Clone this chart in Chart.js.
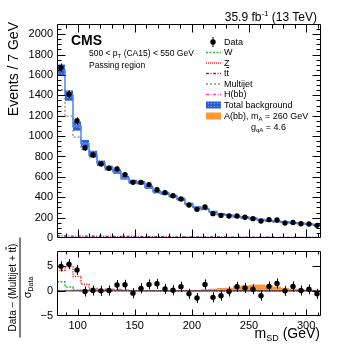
<!DOCTYPE html>
<html><head><meta charset="utf-8">
<script src="https://cdn.jsdelivr.net/npm/chart.js@4.4.1/dist/chart.umd.min.js"></script>
<style>
html,body{margin:0;padding:0;background:#fff;}
body{width:357px;height:347px;position:relative;overflow:hidden;font-family:"Liberation Sans",Arial,Helvetica,sans-serif;color:#000;}
canvas{position:absolute;left:0;}
#c1{top:0;z-index:1;}
#c2{top:240px;z-index:2;}
.t{position:absolute;white-space:nowrap;line-height:1;z-index:5;}
svg{position:absolute;left:0;top:0;z-index:4;}
</style></head><body>
<canvas id="c1" width="357" height="250"></canvas>
<canvas id="c2" width="357" height="107"></canvas>

<svg width="357" height="347">
  <defs>
    <pattern id="bluepat" width="3" height="3" patternUnits="userSpaceOnUse">
      <rect width="3" height="3" fill="#2f5fd3"/>
      <rect x="1" y="1" width="1" height="1" fill="#6f9af2"/>
    </pattern>
  </defs>
  <line x1="213" y1="37" x2="213" y2="47" stroke="#000" stroke-width="1"/>
  <circle cx="213" cy="42" r="2.7" fill="#000"/>
  <line x1="206" y1="52.5" x2="221" y2="52.5" stroke="#33aa33" stroke-width="1.5" stroke-dasharray="2,1.5"/>
  <line x1="206" y1="63" x2="221" y2="63" stroke="#e83030" stroke-width="1.5" stroke-dasharray="1,1"/>
  <line x1="206" y1="73.5" x2="221" y2="73.5" stroke="#8a1f8a" stroke-width="1.5" stroke-dasharray="3,1.5,1,1.5"/>
  <line x1="206" y1="84" x2="221" y2="84" stroke="#888" stroke-width="1.5" stroke-dasharray="2,2"/>
  <line x1="206" y1="94.5" x2="221" y2="94.5" stroke="#ff44cc" stroke-width="1.5" stroke-dasharray="3,1.5,1,1.5"/>
  <rect x="206" y="101.5" width="15" height="7" fill="url(#bluepat)"/>
  <rect x="206" y="112.5" width="15" height="7" fill="#ff9933"/>
</svg>

<div class="t" style="right:40px;top:11px;font-size:12px;">35.9 fb<span style="font-size:8px;position:relative;top:-5px">-1</span> (13 TeV)</div>
<div class="t" style="left:71px;top:33px;font-size:14px;font-weight:bold;font-family:'Liberation Sans Narrow','Liberation Sans',Arial,sans-serif;">CMS</div>
<div class="t" style="left:89px;top:49px;font-size:8.5px;">500 &lt; p<span style="font-size:6px;position:relative;top:2px">T</span> (CA15) &lt; 550 GeV</div>
<div class="t" style="left:89px;top:61px;font-size:8.5px;">Passing region</div>

<div class="t" style="left:224px;top:37.5px;font-size:9px;">Data</div>
<div class="t" style="left:224px;top:48px;font-size:9px;">W</div>
<div class="t" style="left:224px;top:58.5px;font-size:9px;">Z</div>
<div class="t" style="left:224px;top:69px;font-size:9px;">t<span style="text-decoration:overline">t</span></div>
<div class="t" style="left:224px;top:79.5px;font-size:9px;">Multijet</div>
<div class="t" style="left:224px;top:90px;font-size:9px;">H(bb)</div>
<div class="t" style="left:224px;top:100.5px;font-size:9px;">Total background</div>
<div class="t" style="left:224px;top:111.5px;font-size:9px;">A(bb), m<span style="font-size:6px;position:relative;top:2px">A</span> = 260 GeV</div>
<div class="t" style="left:251px;top:123px;font-size:9px;">g<span style="font-size:6px;position:relative;top:2px">qA</span> = 4.6</div>

<div class="t" style="left:-42px;top:69px;width:110px;height:16px;font-size:14px;line-height:16px;text-align:right;transform:rotate(-90deg);transform-origin:50% 50%;">Events / 7 GeV</div>

<div class="t" style="left:-30px;top:274px;width:100px;height:27px;transform:rotate(-90deg);transform-origin:50% 50%;text-align:center;font-size:10px;">
  <div style="border-bottom:1px solid #000;line-height:12px;height:13px;">Data − (Multijet + t<span style="text-decoration:overline">t</span>)</div>
  <div style="line-height:13px;font-size:11px;">σ<span style="font-size:7px;position:relative;top:2px">Data</span></div>
</div>

<div class="t" style="right:37px;top:326px;font-size:14px;">m<span style="font-size:9px;position:relative;top:3px">SD</span> (GeV)</div>

<script>
// ---- data ----
const massEdges = [82, 89, 96, 103, 110, 117, 124, 131, 138, 145, 152, 159, 166, 173, 180, 187, 194, 201, 208, 215, 222, 229, 236, 243, 250, 257, 264, 271, 278, 285, 292, 299, 306, 313];
const dataEvents = [1672, 1410, 1150, 884, 815, 727, 684, 678, 622, 546, 546, 524, 474, 445, 415, 383, 324, 281, 304, 239, 222, 216, 216, 203, 190, 167, 180, 177, 147, 153, 140, 137, 124];
const dataErr = [41, 38, 34, 30, 29, 27, 26, 26, 25, 23, 23, 23, 22, 21, 20, 20, 18, 17, 17, 15, 15, 15, 15, 14, 14, 13, 13, 13, 12, 12, 12, 12, 11];
const totalBkg = [1648, 1398, 1098, 926, 825, 735, 686, 651, 592, 553, 543, 499, 455, 440, 411, 381, 334, 301, 285, 258, 236, 226, 209, 203, 193, 180, 170, 163, 157, 150, 143, 137, 128];
const totalBkgUnc = [55, 50, 45, 36, 32, 26, 22, 20, 19, 18, 17, 16, 15, 15, 14, 13, 12, 11, 11, 10, 10, 9, 9, 9, 8, 8, 8, 8, 7, 7, 7, 7, 7];
const multijet = [1455, 1195, 990, 870, 795, 712, 668, 640, 580, 541, 532, 487, 444, 430, 402, 372, 326, 292, 276, 250, 228, 218, 202, 196, 186, 173, 164, 157, 151, 144, 138, 132, 123];
const ttbar = [20, 19, 18, 18, 17, 17, 16, 16, 15, 15, 14, 14, 13, 13, 12, 12, 11, 11, 10, 10, 10, 9, 9, 9, 8, 8, 8, 7, 7, 7, 7, 6, 6];
const pullData = [4.87, 5.3, 4.15, -0.13, 0.06, 0, 0.06, 1.15, 1.2, -0.46, 0.5, 1.27, 1.4, 0.38, 0.12, 0.83, -0.58, -1.42, 1.27, -1.29, -0.96, -0.13, 0.83, 0.58, 0.31, -0.96, 0.88, 1.46, 0, 0.88, 0.06, 0.31, -0.58];
const pullErr = [1, 1, 1, 1, 1, 1, 1, 1, 1, 1, 1, 1, 1, 1, 1, 1, 1, 1, 1, 1, 1, 1, 1, 1, 1, 1, 1, 1, 1, 1, 1, 1, 1];
const pullZ = [4.1, 4.8, 2.85, 1.3, 0.45, 0.2, 0.2, 0.12, 0.05, 0, 0, 0, 0, 0, 0, 0, 0, 0, 0, 0, 0, 0, 0, 0, 0, 0, 0, 0, 0, 0, 0, 0, 0];
const pullW = [1.8, 0.75, 0.1, 0.02, 0, 0, 0, 0, 0, 0, 0, 0, 0, 0, 0, 0, 0, 0, 0, 0, 0, 0, 0, 0, 0, 0, 0, 0, 0, 0, 0, 0, 0];
const pullH = [0.02, 0.05, 0.08, 0.12, 0.2, 0.28, 0.3, 0.25, 0.15, 0.08, 0.03, 0, 0, 0, 0, 0, 0, 0, 0, 0, 0, 0, 0, 0, 0, 0, 0, 0, 0, 0, 0, 0, 0];
const pullSignal = [0, 0, 0, 0, 0, 0, 0, 0, 0, 0, 0, 0, 0, 0, 0, 0, 0.05, 0.1, 0.3, 0.42, 0.55, 0.62, 0.95, 1.08, 1.2, 1.27, 1.1, 0.85, 0.6, 0.42, 0.3, 0.22, 0.18];
const yTicksTop = [0, 200, 400, 600, 800, 1000, 1200, 1400, 1600, 1800, 2000];
const yTicksBottom = [-5, 0, 5];
const xTickLabels = [100, 150, 200, 250, 300];

// ---- helpers ----
const centers = massEdges.slice(0, -1).map((e, i) => (e + massEdges[i + 1]) / 2);
function steps(vals) {
  const pts = vals.map((v, i) => ({x: massEdges[i], y: v}));
  pts.push({x: massEdges[vals.length], y: vals[vals.length - 1]});
  return pts;
}
function pts(vals) { return vals.map((v, i) => ({x: centers[i], y: v})); }

const pc = document.createElement('canvas'); pc.width = 3; pc.height = 3;
const pctx = pc.getContext('2d');
pctx.fillStyle = '#2f5fd3'; pctx.fillRect(0, 0, 3, 3);
pctx.fillStyle = '#6f9af2'; pctx.fillRect(1, 1, 1, 1);
const bluePattern = pctx.createPattern(pc, 'repeat');

const FONT = '"Liberation Sans", Arial, Helvetica, sans-serif';

const frameTicks = {
  id: 'frameTicks',
  afterDraw(chart, args, o) {
    const {ctx, chartArea: a} = chart;
    const x = chart.scales.x, y = chart.scales.y;
    const L = Math.round(a.left) + 0.5, R = Math.round(a.right) - 0.5;
    const T = Math.round(a.top) + 0.5, B = Math.round(a.bottom) - 0.5;
    ctx.save();
    ctx.strokeStyle = '#000'; ctx.lineWidth = 1;
    ctx.beginPath();
    for (let v = o.xFrom; v <= o.xTo; v += o.xStep) {
      const px = Math.round(x.getPixelForValue(v)) + 0.5;
      if (px <= L + 1 || px >= R - 1) continue;
      const len = (v % o.xMajorEvery === 0) ? o.xMaj : o.xMin;
      ctx.moveTo(px, B); ctx.lineTo(px, B - len);
      ctx.moveTo(px, T); ctx.lineTo(px, T + len);
    }
    for (let v = o.yFrom; v <= o.yTo; v += o.yStep) {
      const py = Math.round(y.getPixelForValue(v)) + 0.5;
      if (py <= T + 1 || py >= B - 1) continue;
      const len = (v % o.yMajorEvery === 0) ? o.yMaj : o.yMin;
      ctx.moveTo(L, py); ctx.lineTo(L + len, py);
      ctx.moveTo(R, py); ctx.lineTo(R - len, py);
    }
    ctx.rect(L, T, R - L, B - T);
    ctx.stroke();
    ctx.restore();
  }
};

const errorBars = {
  id: 'errorBars',
  afterDatasetsDraw(chart) {
    const {ctx} = chart;
    const x = chart.scales.x, y = chart.scales.y;
    chart.data.datasets.forEach((ds) => {
      if (!ds.errors) return;
      ctx.save();
      ctx.strokeStyle = '#000'; ctx.lineWidth = 1;
      ctx.beginPath();
      ds.data.forEach((p, i) => {
        const px = Math.round(x.getPixelForValue(p.x)) + 0.5;
        ctx.moveTo(px, y.getPixelForValue(p.y - ds.errors[i]));
        ctx.lineTo(px, y.getPixelForValue(p.y + ds.errors[i]));
      });
      ctx.stroke();
      ctx.restore();
    });
  }
};

const lineDs = (data, color, dash, width) => ({
  data, borderColor: color, borderDash: dash, borderWidth: width || 1.5,
  pointRadius: 0, stepped: 'before', fill: false
});

// ---- top chart ----
const bandUp = totalBkg.map((v, i) => v + totalBkgUnc[i]);
const bandDn = totalBkg.map((v, i) => v - totalBkgUnc[i]);

new Chart(document.getElementById('c1'), {
  type: 'line',
  data: {
    datasets: [
      {data: pts(dataEvents), errors: dataErr, showLine: false, pointRadius: 2.7,
       pointBackgroundColor: '#000', pointBorderColor: '#000', pointBorderWidth: 0},
      lineDs(steps(ttbar), '#8a1f8a', [3, 1.5, 1, 1.5], 1.3),
      lineDs(steps(totalBkg), '#4f86ee', [], 1.5),
      {data: steps(bandUp), stepped: 'before', borderWidth: 0, pointRadius: 0, fill: '+1', backgroundColor: bluePattern},
      {data: steps(bandDn), stepped: 'before', borderWidth: 0, pointRadius: 0, fill: false},
      lineDs(steps(multijet), '#888888', [2, 2], 1.3)
    ]
  },
  options: {
    responsive: false, animation: false, devicePixelRatio: 1,
    layout: {padding: {left: 0, right: 36, top: 24, bottom: 12}},
    plugins: {legend: {display: false}, tooltip: {enabled: false},
      frameTicks: {xFrom: 90, xTo: 310, xStep: 10, xMajorEvery: 50, xMaj: 8, xMin: 4,
                   yFrom: 0, yTo: 2100, yStep: 50, yMajorEvery: 200, yMaj: 8, yMin: 4}},
    scales: {
      x: {type: 'linear', min: 82, max: 313, display: false},
      y: {min: 0, max: 2100,
          afterFit: s => { s.width = 57; },
          afterBuildTicks: s => { s.ticks = yTicksTop.map(v => ({value: v})); },
          grid: {display: false, drawTicks: false}, border: {display: false},
          ticks: {padding: 4, color: '#000', font: {family: FONT, size: 11},
                  callback: v => String(v)}}
    }
  },
  plugins: [frameTicks, errorBars]
});

// ---- bottom chart ----
const zeroLine = [0, 0];
new Chart(document.getElementById('c2'), {
  type: 'line',
  data: {
    datasets: [
      {data: pts(pullData), errors: pullErr, showLine: false, pointRadius: 2.7,
       pointBackgroundColor: '#000', pointBorderColor: '#000', pointBorderWidth: 0},
      {data: [{x: massEdges[0], y: zeroLine[0]}, {x: massEdges[massEdges.length - 1], y: zeroLine[1]}],
       borderColor: '#2d3b2d', borderWidth: 1, pointRadius: 0, fill: false},
      lineDs(steps(pullH), '#ff44cc', [3, 1.5, 1, 1.5], 1.5),
      lineDs(steps(pullZ), '#e83030', [1.2, 1.2], 1.5),
      lineDs(steps(pullW), '#33aa33', [2, 1.5], 1.5),
      {data: steps(pullSignal), stepped: 'before', borderWidth: 0, pointRadius: 0,
       fill: 'origin', backgroundColor: '#ff9933'}
    ]
  },
  options: {
    responsive: false, animation: false, devicePixelRatio: 1,
    layout: {padding: {left: 0, right: 36, top: 8, bottom: 0}},
    plugins: {legend: {display: false}, tooltip: {enabled: false},
      frameTicks: {xFrom: 90, xTo: 310, xStep: 10, xMajorEvery: 50, xMaj: 6, xMin: 3,
                   yFrom: -5, yTo: 8, yStep: 5, yMajorEvery: 5, yMaj: 8, yMin: 4}},
    scales: {
      x: {type: 'linear', min: 82, max: 313,
          afterFit: s => { s.height = 31; },
          afterBuildTicks: s => { s.ticks = xTickLabels.map(v => ({value: v})); },
          grid: {display: false, drawTicks: false}, border: {display: false},
          ticks: {padding: 3, maxRotation: 0, color: '#000', font: {family: FONT, size: 11},
                  callback: v => String(v)}},
      y: {min: -5, max: 8,
          afterFit: s => { s.width = 57; },
          afterBuildTicks: s => { s.ticks = yTicksBottom.map(v => ({value: v})); },
          grid: {display: false, drawTicks: false}, border: {display: false},
          ticks: {padding: 4, color: '#000', font: {family: FONT, size: 11},
                  callback: v => (v < 0 ? '\u2212' + Math.abs(v) : String(v))}}
    }
  },
  plugins: [frameTicks, errorBars]
});
</script>
</body></html>
